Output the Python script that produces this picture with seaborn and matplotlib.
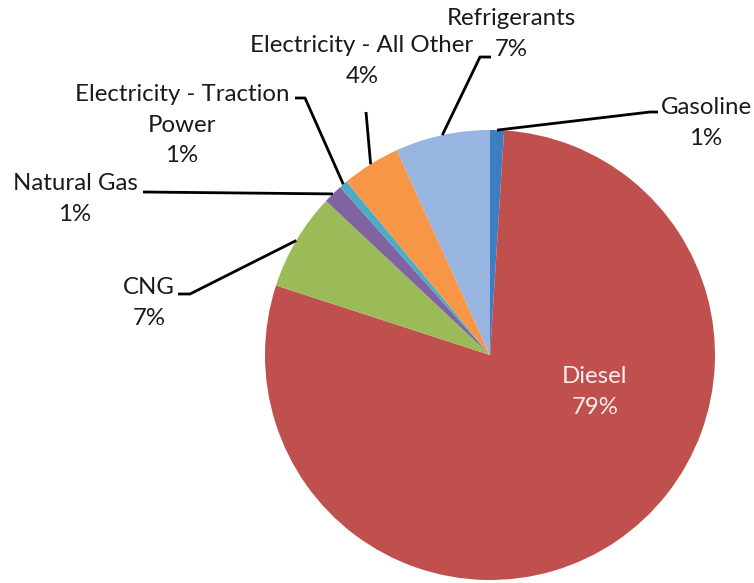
import numpy as np
import matplotlib.pyplot as plt
import seaborn as sns

# data, clockwise from 12 o'clock
sources = ["Gasoline", "Diesel", "CNG", "Natural Gas",
           "Electricity - Traction\nPower", "Electricity - All Other", "Refrigerants"]
shares = [1.0, 79.0, 7.0, 1.4, 0.6, 4.2, 6.8]
colors = ["#3E7DC1", "#C0504D", "#9BBB59", "#8064A2", "#4BACC6", "#F79646", "#98B4E0"]

W, H = 754, 583
sns.set_theme(style="white")
plt.rcParams['font.family'] = ['Lato', 'DejaVu Sans']


def px(x, y):
    # pixel coords (origin top-left) -> data coords
    return x, H - y


fig = plt.figure(figsize=(W / 100, H / 100), dpi=100)
ax = fig.add_axes([0, 0, 1, 1])

cx, cy = px(490, 355)
r = 225
wedges, _ = ax.pie(shares, colors=colors, startangle=90, counterclock=False,
                   center=(cx, cy), radius=r, wedgeprops=dict(linewidth=0),
                   frame=True)
ax.set_xlim(0, W)
ax.set_ylim(0, H)
ax.set_aspect("equal")
ax.axis("off")

fs = 17.3
ls = 1.55
tcol = "#1A1A1A"
pct = [f"{round(s):.0f}%" for s in shares]

# label text centres (pixel) and leader line elbows
layout = {
    "Gasoline": dict(text=(706, 123), path=[(650, 112), (658, 112)]),
    "CNG": dict(text=(149, 303), path=[(190, 294), (178, 294)]),
    "Natural Gas": dict(text=(75, 199), path=[(143, 192)]),
    "Electricity - Traction\nPower": dict(text=(182, 125), path=[(305, 98), (295, 98)]),
    "Electricity - All Other": dict(text=(362, 61), path=[(366, 112)]),
    "Refrigerants": dict(text=(511, 34), path=[(480, 57), (491, 57)]),
}

for w, name, p in zip(wedges, sources, pct):
    mid = np.deg2rad((w.theta1 + w.theta2) / 2)
    ax0, ay0 = cx + r * np.cos(mid), cy + r * np.sin(mid)
    if name == "Diesel":
        ax.text(*px(595, 392), f"{name}\n{p}", ha="center", va="center", fontsize=fs,
                color="#FAEDED", linespacing=ls)
        continue
    lay = layout[name]
    ax.text(*px(*lay["text"]), f"{name}\n{p}", ha="center", va="center",
            fontsize=fs, color=tcol, linespacing=ls)
    pts = [(ax0, ay0)] + [px(*q) for q in lay["path"]]
    xs, ys = zip(*pts)
    ax.plot(xs, ys, color="black", lw=2, solid_capstyle="butt")

fig.savefig("out.png", dpi=100)
